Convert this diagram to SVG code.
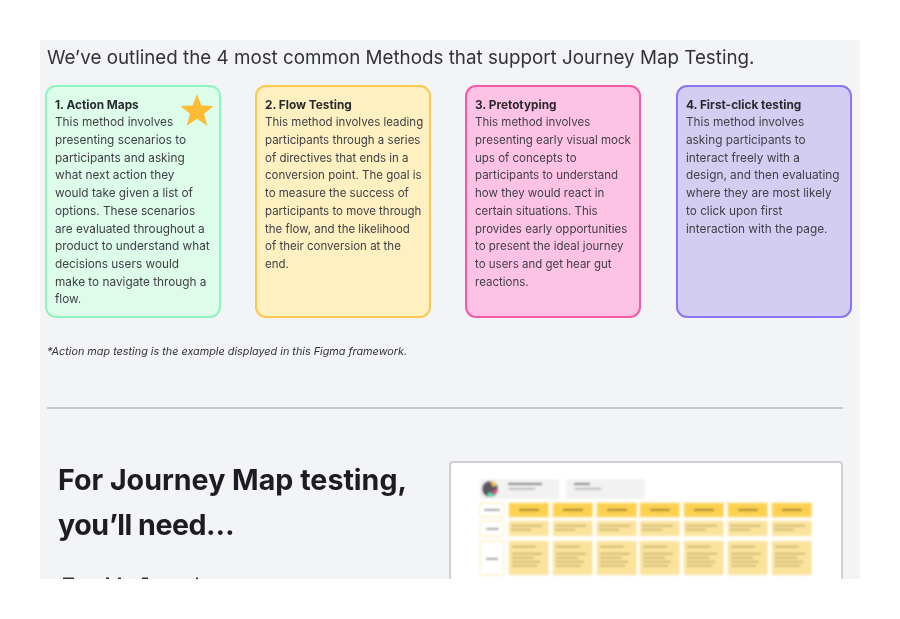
<svg xmlns="http://www.w3.org/2000/svg" width="900" height="619" viewBox="0 0 900 619">
<style>
text{font-family:Inter,"Liberation Sans",sans-serif}
.card{stroke-width:2}
.h{font-size:11.8px;font-weight:700;fill:#2a2a2f}
.b{font-size:11.6px;fill:#3f3f45}
.c1 .b,.c4 .b{font-size:11.8px}
.c2 .b,.c3 .b{font-size:11.5px}
.cell{fill:#fbe39b;stroke:#fdeec4;stroke-width:1}
.head{fill:#fdd14f;stroke:#fde08c;stroke-width:1}
.lab{fill:#fff;stroke:#fdf0c4;stroke-width:1.400}
</style>
<defs>
<filter id="soft" x="-2%" y="-2%" width="104%" height="104%"><feGaussianBlur stdDeviation="0.4"/></filter>
<filter id="softer" x="-2%" y="-2%" width="104%" height="104%"><feGaussianBlur stdDeviation="0.8"/></filter>
<g id="hb"><rect x="10" y="509" width="20" height="1.600" fill="#7a6420"/></g>
<g id="r2" fill="#b8a35e"><rect x="2" y="525" width="31" height="1.300"/><rect x="2" y="529" width="20" height="1.300"/></g>
<g id="r3" fill="#b8a35e"><rect x="3" y="546" width="24" height="1.300"/><rect x="3" y="553" width="30" height="1.300"/><rect x="3" y="557" width="22" height="1.300"/><rect x="3" y="561" width="28" height="1.300"/><rect x="3" y="565" width="25" height="1.300"/></g>
</defs>
<rect width="900" height="619" fill="#fff"/>
<rect x="40" y="40" width="820" height="539" fill="#f3f4f6"/>
<g filter="url(#soft)">
<text x="47" y="63.500" font-size="18.800" fill="#333338">We’ve outlined the 4 most common Methods that support Journey Map Testing.</text>
<g id="card-1" class="c1"><rect class="card" x="46" y="86" width="174" height="231" rx="10" fill="#ddfdea" stroke="#8ff5be"/>
<text class="h" x="55" y="108.500">1. Action Maps</text>
<path d="M197 94l4.300 11.600 12.400.500-9.700 7.700 3.300 11.900-10.300-6.900-10.300 6.900 3.300-11.900-9.700-7.700 12.400-.500z" fill="#fdbb35"/>
<text class="b" x="55" y="126">This method involves</text><text class="b" x="55" y="144">presenting scenarios to</text><text class="b" x="55" y="161.500">participants and asking</text><text class="b" x="55" y="179">what next action they</text><text class="b" x="55" y="197">would take given a list of</text><text class="b" x="55" y="214.500">options. These scenarios</text><text class="b" x="55" y="232.500">are evaluated throughout a</text><text class="b" x="55" y="250">product to understand what</text><text class="b" x="55" y="268">decisions users would</text><text class="b" x="55" y="285.500">make to navigate through a</text><text class="b" x="55" y="303">flow.</text></g>
<g id="card-2" class="c2"><rect class="card" x="256" y="86" width="174" height="231" rx="10" fill="#fef0c0" stroke="#fcc84f"/>
<text class="h" x="265" y="108.500">2. Flow Testing</text>
<text class="b" x="265" y="126">This method involves leading</text><text class="b" x="265" y="144">participants through a series</text><text class="b" x="265" y="161.500">of directives that ends in a</text><text class="b" x="265" y="179">conversion point. The goal is</text><text class="b" x="265" y="197">to measure the success of</text><text class="b" x="265" y="214.500">participants to move through</text><text class="b" x="265" y="232.500">the flow, and the likelihood</text><text class="b" x="265" y="250">of their conversion at the</text><text class="b" x="265" y="268">end.</text></g>
<g id="card-3" class="c3"><rect class="card" x="466" y="86" width="174" height="231" rx="10" fill="#fec3e4" stroke="#f55aa6"/>
<text class="h" x="475" y="108.500">3. Pretotyping</text>
<text class="b" x="475" y="126">This method involves</text><text class="b" x="475" y="144">presenting early visual mock</text><text class="b" x="475" y="161.500">ups of concepts to</text><text class="b" x="475" y="179">participants to understand</text><text class="b" x="475" y="197">how they would react in</text><text class="b" x="475" y="214.500">certain situations. This</text><text class="b" x="475" y="232.500">provides early opportunities</text><text class="b" x="475" y="250">to present the ideal journey</text><text class="b" x="475" y="268">to users and get hear gut</text><text class="b" x="475" y="285.500">reactions.</text></g>
<g id="card-4" class="c4"><rect class="card" x="677" y="86" width="174" height="231" rx="10" fill="#d3cdf2" stroke="#8b76f5"/>
<text class="h" x="686" y="108.500">4. First-click testing</text>
<text class="b" x="686" y="126">This method involves</text><text class="b" x="686" y="144">asking participants to</text><text class="b" x="686" y="161.500">interact freely with a</text><text class="b" x="686" y="179">design, and then evaluating</text><text class="b" x="686" y="197">where they are most likely</text><text class="b" x="686" y="214.500">to click upon first</text><text class="b" x="686" y="232.500">interaction with the page.</text></g>
<text x="47" y="355" font-size="10.830" font-style="italic" fill="#33333a">*Action map testing is the example displayed in this Figma framework.</text>
<rect x="47" y="407" width="796" height="2" fill="#c9cacd"/>
<text x="58" y="490" font-size="28.600" font-weight="700" fill="#1f1f24">For Journey Map testing,</text>
<text x="58" y="534.500" font-size="28.600" font-weight="700" letter-spacing="-0.500" fill="#1f1f24">you’ll need…</text>
<g fill="#33333a"><rect x="63" y="577.500" width="11" height="1.500"/><rect x="106" y="577.500" width="3" height="1.500"/><rect x="118" y="577.500" width="3" height="1.500"/><rect x="142" y="577.500" width="6" height="1.500"/><rect x="196" y="577.500" width="2" height="1.500"/></g>
</g>
<g id="framework-preview">
<rect x="450" y="462" width="392" height="130" rx="3" fill="#fff" stroke="#cfd0d3" stroke-width="2"/>
<g filter="url(#softer)">
<rect x="480" y="479" width="79" height="20" rx="2" fill="#f2f2f3"/><rect x="566" y="479" width="79" height="20" rx="2" fill="#f2f2f3"/>
<circle cx="490" cy="489" r="8" fill="#5a5560"/><path d="M490 481a8 8 0 0 1 7 4l-4 2z" fill="#f0c83c"/><path d="M498 489a8 8 0 0 1-3 6l-3-4z" fill="#e84a9c"/><path d="M495 495a8 8 0 0 1-8 1l2-4z" fill="#5fe0b0"/>
<rect x="508" y="483" width="34" height="1.800" fill="#555"/><rect x="509" y="488" width="26" height="1.400" fill="#999"/>
<rect x="574" y="483" width="16" height="1.800" fill="#555"/><rect x="575" y="488" width="26" height="1.400" fill="#999"/>
<rect x="480" y="503" width="24" height="14" rx="2" class="lab"/><rect x="480" y="521" width="24" height="15" rx="2" class="lab"/><rect x="480" y="541" width="24" height="34" rx="2" class="lab"/>
<rect x="509" y="503" width="39.500" height="14" class="head"/><rect x="553" y="503" width="39.500" height="14" class="head"/><rect x="597" y="503" width="39.500" height="14" class="head"/><rect x="640" y="503" width="39.500" height="14" class="head"/><rect x="684" y="503" width="39.500" height="14" class="head"/><rect x="728" y="503" width="39.500" height="14" class="head"/><rect x="772" y="503" width="39.500" height="14" class="head"/>
<rect x="509" y="521" width="39.500" height="15" class="cell"/><rect x="553" y="521" width="39.500" height="15" class="cell"/><rect x="597" y="521" width="39.500" height="15" class="cell"/><rect x="640" y="521" width="39.500" height="15" class="cell"/><rect x="684" y="521" width="39.500" height="15" class="cell"/><rect x="728" y="521" width="39.500" height="15" class="cell"/><rect x="772" y="521" width="39.500" height="15" class="cell"/>
<rect x="509" y="541" width="39.500" height="34" class="cell"/><rect x="553" y="541" width="39.500" height="34" class="cell"/><rect x="597" y="541" width="39.500" height="34" class="cell"/><rect x="640" y="541" width="39.500" height="34" class="cell"/><rect x="684" y="541" width="39.500" height="34" class="cell"/><rect x="728" y="541" width="39.500" height="34" class="cell"/><rect x="772" y="541" width="39.500" height="34" class="cell"/>
<use href="#hb" x="509"/><use href="#hb" x="553"/><use href="#hb" x="597"/><use href="#hb" x="640"/><use href="#hb" x="684"/><use href="#hb" x="728"/><use href="#hb" x="772"/>
<use href="#r2" x="509"/><use href="#r2" x="553"/><use href="#r2" x="597"/><use href="#r2" x="640"/><use href="#r2" x="684"/><use href="#r2" x="728"/><use href="#r2" x="772"/>
<use href="#r3" x="509"/><use href="#r3" x="553"/><use href="#r3" x="597"/><use href="#r3" x="640"/><use href="#r3" x="684"/><use href="#r3" x="728"/><use href="#r3" x="772"/>
<rect x="484" y="509" width="16" height="1.600" fill="#777"/><rect x="486" y="528" width="13" height="1.600" fill="#777"/><rect x="486" y="558" width="12" height="1.600" fill="#777"/>
</g>
</g>
<rect x="0" y="579" width="900" height="40" fill="#fff"/>
</svg>
